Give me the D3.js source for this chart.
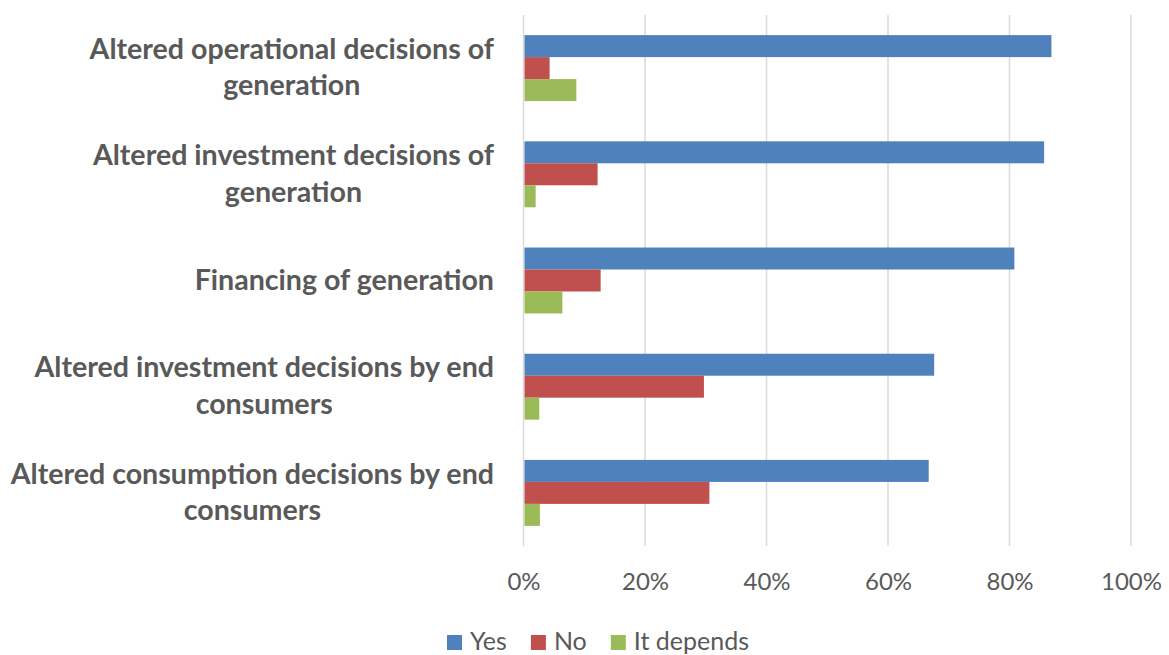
<!DOCTYPE html>
<html>
<head>
<meta charset="utf-8">
<script src="https://cdn.jsdelivr.net/npm/d3@7"></script>
<style>
  html, body { margin: 0; padding: 0; background: #ffffff; }
  svg { display: block; }
  text { font-family: Lato, "Open Sans", sans-serif; fill: #595959; }
</style>
</head>
<body>
<svg id="chart" width="1169" height="655"></svg>
<script>
// Survey answers per effect, share of respondents
const categories = [
  "Altered operational decisions of\ngeneration",
  "Altered investment decisions of\ngeneration",
  "Financing of generation",
  "Altered investment decisions by end\nconsumers",
  "Altered consumption decisions by end\nconsumers"
];
const seriesNames = ["Yes", "No", "It depends"];
const yesValues = [86.9, 85.7, 80.8, 67.6, 66.7];
const noValues = [4.3, 12.2, 12.7, 29.7, 30.6];
const dependsValues = [8.7, 2.0, 6.4, 2.6, 2.7];
const xTicks = [0, 20, 40, 60, 80, 100];
const seriesColors = ["#4F81BD", "#C0504D", "#9BBB59"];

const seriesValues = [yesValues, noValues, dependsValues];

const svg = d3.select("#chart");
const plot = { left: 523.5, right: 1131, top: 15, bottom: 546 };

const x = d3.scaleLinear().domain([0, 100]).range([plot.left, plot.right]);
const y0 = d3.scaleBand().domain(categories).range([plot.top, plot.bottom]);
const gap = y0.bandwidth() * 0.379;
const y1 = d3.scaleBand().domain(seriesNames).range([gap / 2, y0.bandwidth() - gap / 2]);

// vertical gridlines
svg.append("g")
  .selectAll("line")
  .data(xTicks)
  .join("line")
  .attr("x1", d => x(d)).attr("x2", d => x(d))
  .attr("y1", plot.top).attr("y2", plot.bottom)
  .attr("stroke", "#d9d9d9")
  .attr("stroke-width", 1.5);

// x axis tick labels
const xAxis = d3.axisBottom(x).tickValues(xTicks).tickSize(0).tickPadding(0)
  .tickFormat(d => d + "%");
const gx = svg.append("g").attr("transform", `translate(0,${plot.bottom})`).call(xAxis);
gx.select(".domain").remove();
gx.selectAll("text")
  .attr("dy", null)
  .attr("y", 44)
  .style("font-size", "24px")
  .style("fill", "#595959")
  .style("font-family", "Lato, sans-serif");

// bars
const groups = svg.append("g")
  .selectAll("g")
  .data(categories)
  .join("g")
  .attr("transform", c => `translate(0,${y0(c)})`);

groups.selectAll("rect")
  .data((c, i) => seriesNames.map((s, j) => ({ s, v: seriesValues[j][i], color: seriesColors[j] })))
  .join("rect")
  .attr("x", x(0) + 1)
  .attr("y", d => y1(d.s))
  .attr("width", d => x(d.v) - x(0) - 1)
  .attr("height", y1.bandwidth())
  .attr("fill", d => d.color);

// category labels: wrapped lines, centred on each other, right-aligned block
const labelRight = 494;
const lineHeight = 36.5;
const labels = svg.append("g");
categories.forEach(c => {
  const lines = c.split("\n");
  const cy = y0(c) + y0.bandwidth() / 2;
  const g = labels.append("g");
  const texts = lines.map((ln, k) =>
    g.append("text")
      .attr("text-anchor", "middle")
      .attr("y", cy + (k - (lines.length - 1) / 2) * lineHeight + 9)
      .style("font-size", "28.6px")
      .style("font-weight", "bold")
      .text(ln));
  const maxW = d3.max(texts, t => t.node().getComputedTextLength());
  texts.forEach(t => t.attr("x", labelRight - maxW / 2));
});

// legend
const legend = svg.append("g");
let lx = 0;
seriesNames.forEach((s, j) => {
  const item = legend.append("g").attr("transform", `translate(${lx},0)`);
  item.append("rect").attr("x", 0).attr("y", -15).attr("width", 15).attr("height", 15)
    .attr("fill", seriesColors[j]);
  const t = item.append("text").attr("x", 23).attr("y", 0)
    .style("font-size", "25px").text(s);
  lx += 23 + t.node().getComputedTextLength() + 24;
});
const legendW = lx - 24;
legend.attr("transform", `translate(${598 - legendW / 2},650)`);
</script>
</body>
</html>
